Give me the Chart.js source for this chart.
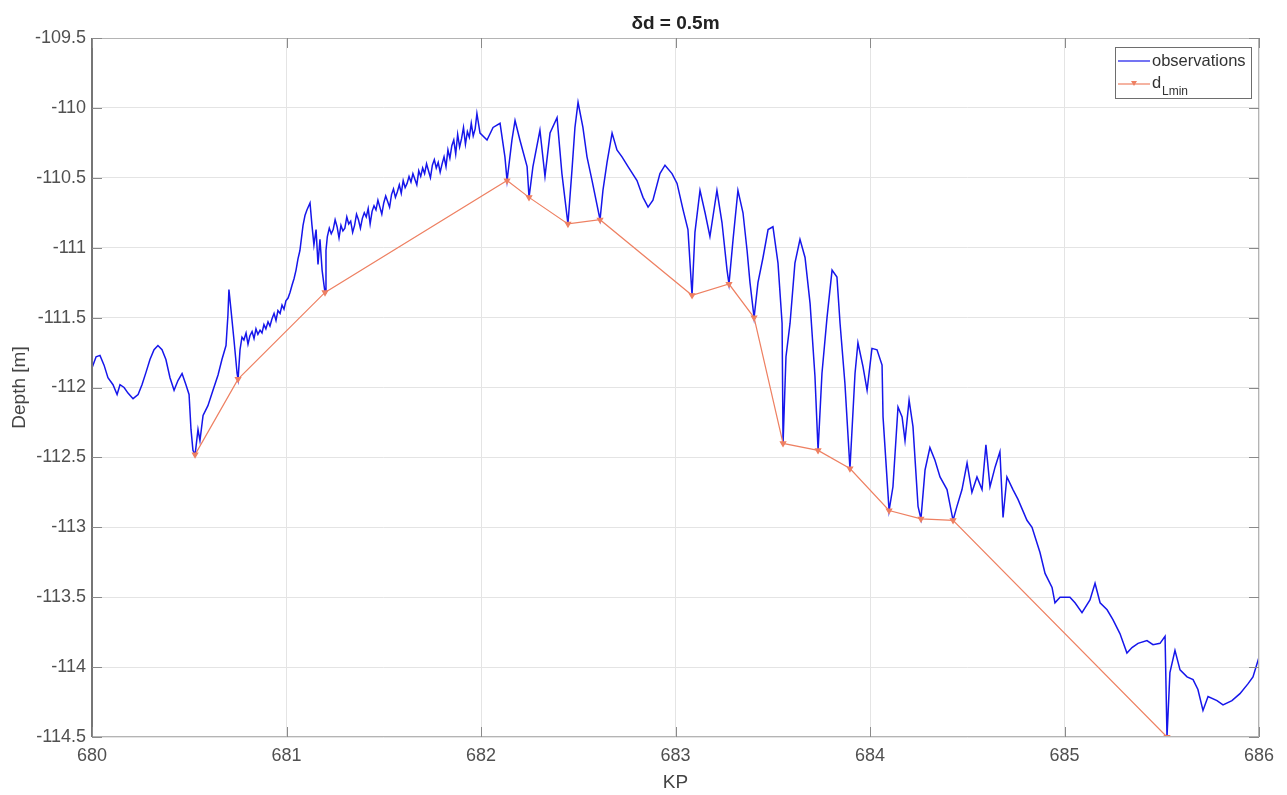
<!DOCTYPE html>
<html>
<head>
<meta charset="utf-8">
<title>δd = 0.5m</title>
<script src="https://cdn.jsdelivr.net/npm/chart.js@4"></script>
<style>
  html, body { margin: 0; padding: 0; background: #fff; }
  canvas { display: block; }
</style>
</head>
<body>
<canvas id="depthChart" width="1287" height="795"></canvas>
<script>
// =========================
//  DATA
// =========================
const obsKp = [
  // 680.0 - 680.75
  680.000, 680.021, 680.041, 680.062, 680.082, 680.108, 680.129, 680.144, 680.165, 680.185,
  680.211, 680.237, 680.257, 680.278, 680.298, 680.319, 680.339, 680.360, 680.380, 680.401,
  680.422, 680.442, 680.463, 680.483, 680.499, 680.509, 680.519, 680.530, 680.545, 680.555,
  680.571, 680.596, 680.622, 680.648, 680.668, 680.689, 680.699, 680.704, 680.715, 680.730,
  680.746, 680.751,
  // 680.76 - 681.07
  680.761, 680.771, 680.781, 680.792, 680.802, 680.812, 680.823, 680.833, 680.843, 680.853,
  680.864, 680.874, 680.884, 680.894, 680.905, 680.915, 680.925, 680.936, 680.946, 680.956,
  680.967, 680.977, 680.987, 680.997, 681.008, 681.018, 681.028, 681.039, 681.049, 681.059,
  681.069,
  // 681.08 - 681.2
  681.085, 681.095, 681.105, 681.121, 681.131, 681.141, 681.152, 681.162, 681.172, 681.183,
  681.193, 681.198,
  // 681.2 - 681.98
  681.203, 681.21, 681.22, 681.23, 681.24, 681.25, 681.26, 681.27, 681.28, 681.29,
  681.30, 681.31, 681.32, 681.33, 681.34, 681.35, 681.36, 681.37, 681.38, 681.39,
  681.40, 681.41, 681.42, 681.43, 681.44, 681.45, 681.46, 681.47, 681.48, 681.49,
  681.50, 681.51, 681.52, 681.53, 681.54, 681.55, 681.56, 681.57, 681.58, 681.59,
  681.60, 681.61, 681.62, 681.63, 681.64, 681.65, 681.66, 681.67, 681.68, 681.69,
  681.70, 681.71, 681.72, 681.73, 681.74, 681.75, 681.76, 681.77, 681.78, 681.79,
  681.80, 681.81, 681.82, 681.83, 681.84, 681.85, 681.86, 681.87, 681.88, 681.89,
  681.90, 681.91, 681.92, 681.93, 681.94, 681.95, 681.96, 681.97, 681.979,
  // 682.0 - 686.0
  681.995, 682.031, 682.062, 682.098, 682.123, 682.134, 682.159, 682.175, 682.200, 682.237,
  682.247, 682.267, 682.303, 682.329, 682.355, 682.391, 682.416, 682.447, 682.468, 682.483,
  682.499, 682.524, 682.545, 682.571, 682.612, 682.627, 682.648, 682.674, 682.699, 682.725,
  682.756, 682.802, 682.833, 682.859, 682.884, 682.920, 682.946, 682.982, 683.008, 683.039,
  683.064, 683.085, 683.100, 683.126, 683.152, 683.177, 683.213, 683.239, 683.265, 683.275,
  683.296, 683.321, 683.347, 683.368, 683.383, 683.404, 683.424, 683.450, 683.476, 683.501,
  683.527, 683.548, 683.553, 683.568, 683.589, 683.614, 683.640, 683.666, 683.692, 683.717,
  683.733, 683.753, 683.779, 683.805, 683.830, 683.846, 683.871, 683.897, 683.923, 683.938,
  683.964, 683.985, 684.010, 684.036, 684.062, 684.067, 684.098, 684.118, 684.144, 684.165,
  684.180, 684.201, 684.221, 684.247, 684.262, 684.283, 684.308, 684.334, 684.360, 684.396,
  684.427, 684.447, 684.473, 684.499, 684.524, 684.550, 684.576, 684.596, 684.617, 684.643,
  684.668, 684.684, 684.704, 684.735, 684.761, 684.807, 684.833, 684.874, 684.900, 684.936,
  684.951, 684.977, 685.028, 685.054, 685.090, 685.131, 685.157, 685.183, 685.219, 685.249,
  685.285, 685.321, 685.347, 685.378, 685.424, 685.455, 685.491, 685.517, 685.527, 685.542,
  685.568, 685.594, 685.630, 685.661, 685.686, 685.712, 685.738, 685.784, 685.815, 685.861,
  685.902, 685.943, 685.969, 686.000
];

const obsDepth = [
  // 680.0 - 680.75
  -111.86, -111.78, -111.77, -111.84, -111.93, -111.98, -112.05, -111.98, -112.00, -112.04,
  -112.08, -112.05, -111.98, -111.89, -111.80, -111.73, -111.70, -111.73, -111.80, -111.93,
  -112.02, -111.95, -111.90, -111.98, -112.05, -112.30, -112.45, -112.48, -112.30, -112.38,
  -112.20, -112.13, -112.02, -111.91, -111.80, -111.70, -111.48, -111.30, -111.45, -111.66,
  -111.90, -111.94,
  // 680.76 - 681.07
  -111.73, -111.64, -111.66, -111.61, -111.69, -111.63, -111.60, -111.65, -111.58, -111.62,
  -111.59, -111.61, -111.55, -111.58, -111.53, -111.56, -111.51, -111.47, -111.52, -111.45,
  -111.47, -111.41, -111.44, -111.38, -111.36, -111.32, -111.27, -111.22, -111.16, -111.08,
  -111.02,
  // 681.08 - 681.2
  -110.84, -110.77, -110.73, -110.68, -110.84, -110.98, -110.87, -111.12, -110.94, -111.16,
  -111.27, -111.32,
  // 681.2 - 681.98
  -111.02, -110.92, -110.86, -110.90, -110.87, -110.80, -110.85, -110.93, -110.84, -110.88,
  -110.86, -110.78, -110.83, -110.81, -110.89, -110.84, -110.76, -110.80, -110.86, -110.79,
  -110.75, -110.78, -110.72, -110.83, -110.74, -110.70, -110.73, -110.66, -110.71, -110.76,
  -110.68, -110.63, -110.67, -110.71, -110.62, -110.58, -110.64, -110.60, -110.55, -110.61,
  -110.52, -110.57, -110.54, -110.49, -110.53, -110.47, -110.51, -110.55, -110.45, -110.49,
  -110.43, -110.47, -110.40, -110.45, -110.50, -110.41, -110.37, -110.43, -110.39, -110.46,
  -110.40, -110.35, -110.42, -110.30, -110.36, -110.27, -110.23, -110.33, -110.19, -110.28,
  -110.22, -110.14, -110.26, -110.17, -110.21, -110.11, -110.20, -110.15, -110.04,
  // 682.0 - 686.0
  -110.18, -110.23, -110.14, -110.11, -110.35, -110.52, -110.23, -110.09, -110.23, -110.42,
  -110.64, -110.42, -110.16, -110.49, -110.18, -110.07, -110.47, -110.83, -110.44, -110.14,
  -109.96, -110.14, -110.35, -110.52, -110.80, -110.59, -110.39, -110.18, -110.30, -110.35,
  -110.42, -110.52, -110.64, -110.71, -110.66, -110.47, -110.41, -110.47, -110.54, -110.73,
  -110.87, -111.34, -110.89, -110.59, -110.75, -110.92, -110.59, -110.82, -111.16, -111.26,
  -110.94, -110.59, -110.75, -111.02, -111.25, -111.50, -111.25, -111.07, -110.87, -110.85,
  -111.11, -111.54, -112.40, -111.78, -111.54, -111.11, -110.94, -111.07, -111.40, -111.92,
  -112.45, -111.90, -111.50, -111.16, -111.21, -111.54, -111.97, -112.58, -111.90, -111.68,
  -111.85, -112.02, -111.72, -111.73, -111.84, -112.21, -112.88, -112.71, -112.14, -112.21,
  -112.38, -112.09, -112.28, -112.85, -112.94, -112.59, -112.43, -112.52, -112.64, -112.73,
  -112.95, -112.85, -112.73, -112.54, -112.75, -112.64, -112.73, -112.41, -112.71, -112.57,
  -112.46, -112.93, -112.64, -112.73, -112.80, -112.95, -113.00, -113.18, -113.33, -113.43,
  -113.54, -113.50, -113.50, -113.54, -113.61, -113.52, -113.40, -113.54, -113.59, -113.66,
  -113.76, -113.90, -113.86, -113.83, -113.81, -113.84, -113.83, -113.78, -114.50, -114.04,
  -113.88, -114.02, -114.07, -114.09, -114.16, -114.31, -114.21, -114.24, -114.27, -114.24,
  -114.19, -114.12, -114.07, -113.93
];

const dLminKp = [
  680.530, 680.751, 681.198, 682.134, 682.247, 682.447, 682.612, 683.085, 683.275,
  683.404, 683.553, 683.733, 683.897, 684.098, 684.262, 684.427, 685.527
];
const dLminDepth = [
  -112.48, -111.94, -111.32, -110.52, -110.64, -110.83, -110.80, -111.34, -111.26,
  -111.50, -112.40, -112.45, -112.58, -112.88, -112.94, -112.95, -114.50
];

const kpTicks = [680, 681, 682, 683, 684, 685, 686];
const depthTicks = [-114.5, -114, -113.5, -113, -112.5, -112, -111.5, -111, -110.5, -110, -109.5];

const titleText = "δd = 0.5m";
const seriesNames = ["observations", "d", "Lmin"];

const FONT = "'Liberation Sans', Arial, Helvetica, sans-serif";
const OBS_COLOR = "rgb(22, 22, 235)";
const DL_COLOR = "rgb(238, 128, 98)";

// =========================
//  FRAME, INNER TICKS, TITLE, LEGEND
// =========================
const matlabLook = {
  id: "matlabLook",
  afterDraw(chart) {
    const { ctx, chartArea: a, scales: { x, y } } = chart;
    ctx.save();

    // box
    ctx.strokeStyle = "#b4b4b4";
    ctx.lineWidth = 1;
    ctx.strokeRect(a.left + 0.5, a.top + 0.5, a.width - 1, a.height - 1);
    ctx.strokeStyle = "#767676";
    ctx.lineWidth = 2;
    ctx.beginPath();
    ctx.moveTo(a.left, a.top);
    ctx.lineTo(a.left, a.bottom);
    ctx.stroke();

    // inward ticks
    ctx.strokeStyle = "#8a8a8a";
    ctx.lineWidth = 1;
    ctx.beginPath();
    kpTicks.forEach(v => {
      const px = Math.round(x.getPixelForValue(v)) + 0.5;
      ctx.moveTo(px, a.top); ctx.lineTo(px, a.top + 10);
      ctx.moveTo(px, a.bottom); ctx.lineTo(px, a.bottom - 10);
    });
    depthTicks.forEach(v => {
      const py = Math.round(y.getPixelForValue(v)) + 0.5;
      ctx.moveTo(a.left, py); ctx.lineTo(a.left + 10, py);
      ctx.moveTo(a.right, py); ctx.lineTo(a.right - 10, py);
    });
    ctx.stroke();

    // title
    ctx.fillStyle = "#222";
    ctx.font = "bold 19px " + FONT;
    ctx.textAlign = "center";
    ctx.textBaseline = "alphabetic";
    ctx.fillText(titleText, (a.left + a.right) / 2, a.top - 9);

    // legend box
    const lx = a.right - 144, ly = a.top + 9, lw = 136, lh = 51;
    ctx.fillStyle = "#fff";
    ctx.fillRect(lx, ly, lw, lh);
    ctx.strokeStyle = "#6e6e6e";
    ctx.strokeRect(lx + 0.5, ly + 0.5, lw, lh);

    ctx.lineWidth = 1.2;
    ctx.strokeStyle = OBS_COLOR;
    ctx.beginPath();
    ctx.moveTo(lx + 3, ly + 14); ctx.lineTo(lx + 35, ly + 14);
    ctx.stroke();

    ctx.strokeStyle = DL_COLOR;
    ctx.beginPath();
    ctx.moveTo(lx + 3, ly + 37); ctx.lineTo(lx + 35, ly + 37);
    ctx.stroke();
    ctx.fillStyle = DL_COLOR;
    ctx.beginPath();
    ctx.moveTo(lx + 16, ly + 34); ctx.lineTo(lx + 22, ly + 34); ctx.lineTo(lx + 19, ly + 39);
    ctx.closePath();
    ctx.fill();

    ctx.fillStyle = "#333";
    ctx.textAlign = "left";
    ctx.font = "16.5px " + FONT;
    ctx.fillText(seriesNames[0], lx + 37, ly + 19);
    ctx.fillText(seriesNames[1], lx + 37, ly + 41);
    ctx.font = "12px " + FONT;
    ctx.fillText(seriesNames[2], lx + 47, ly + 48);

    ctx.restore();
  }
};

// =========================
//  CHART
// =========================
new Chart(document.getElementById("depthChart"), {
  type: "line",
  data: {
    datasets: [
      {
        label: "observations",
        data: obsKp.map((k, i) => ({ x: k, y: obsDepth[i] })),
        borderColor: OBS_COLOR,
        borderWidth: 1.5,
        pointRadius: 0,
        tension: 0,
        order: 1
      },
      {
        label: "dLmin",
        data: dLminKp.map((k, i) => ({ x: k, y: dLminDepth[i] })),
        borderColor: DL_COLOR,
        backgroundColor: DL_COLOR,
        borderWidth: 1.2,
        pointStyle: "triangle",
        rotation: 180,
        pointRadius: 3,
        tension: 0,
        order: 0
      }
    ]
  },
  options: {
    responsive: false,
    animation: false,
    devicePixelRatio: 1,
    layout: { padding: { top: 38, right: 28, left: 0, bottom: 0 } },
    plugins: {
      legend: { display: false },
      title: { display: false },
      tooltip: { enabled: false }
    },
    scales: {
      x: {
        type: "linear",
        min: 680,
        max: 686,
        afterFit: s => { s.height = 58; },
        afterBuildTicks: s => { s.ticks = kpTicks.map(v => ({ value: v })); },
        ticks: {
          padding: 8,
          color: "#505050",
          font: { family: FONT, size: 18 },
          callback: v => String(v)
        },
        grid: { color: "#e4e4e4", drawTicks: false },
        border: { display: false },
        title: {
          display: true,
          text: "KP",
          color: "#444",
          font: { family: FONT, size: 19 },
          padding: { top: 0, bottom: 1 }
        }
      },
      y: {
        type: "linear",
        min: -114.5,
        max: -109.5,
        afterFit: s => { s.width = 92; },
        afterBuildTicks: s => { s.ticks = depthTicks.map(v => ({ value: v })); },
        ticks: {
          padding: 6,
          color: "#505050",
          font: { family: FONT, size: 18 },
          callback: v => String(v)
        },
        grid: { color: "#e4e4e4", drawTicks: false },
        border: { display: false },
        title: {
          display: true,
          text: "Depth [m]",
          color: "#444",
          font: { family: FONT, size: 19 },
          padding: { top: 8, bottom: 0 }
        }
      }
    }
  },
  plugins: [matlabLook]
});
</script>
</body>
</html>
